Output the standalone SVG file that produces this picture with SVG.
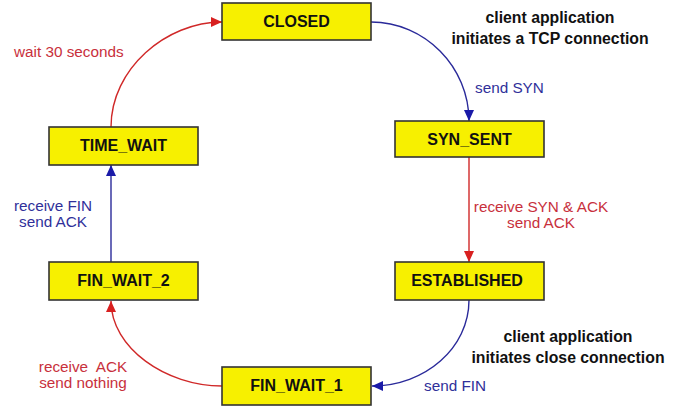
<svg xmlns="http://www.w3.org/2000/svg" width="697" height="414" viewBox="0 0 697 414">
<defs>
<style>
.node rect{fill:#f7f000;stroke:#333;stroke-width:1.6}
.node text{font-family:"Liberation Sans",Arial,sans-serif;font-weight:bold;font-size:16px;fill:#111;text-anchor:middle}
.lbl{font-family:"Liberation Sans",Arial,sans-serif;font-size:15.3px}
.red{fill:#c8303c}
.blue{fill:#30309a}
.note{font-family:"Liberation Sans",Arial,sans-serif;font-weight:bold;font-size:15.8px;fill:#111;text-anchor:middle}
.er{fill:none;stroke:#d02828;stroke-width:1.4}
.eb{fill:none;stroke:#2a2a9a;stroke-width:1.4}
</style>
<marker id="ar" markerUnits="userSpaceOnUse" markerWidth="12" markerHeight="10" refX="11" refY="5" orient="auto"><path d="M0,0 L11,5 L0,10 Z" fill="#d82020"/></marker>
<marker id="ab" markerUnits="userSpaceOnUse" markerWidth="12" markerHeight="10" refX="11" refY="5" orient="auto"><path d="M0,0 L11,5 L0,10 Z" fill="#1a1aa8"/></marker>
</defs>
<rect width="697" height="414" fill="#fff"/>
<g id="connectors">
<path class="eb" d="M371,22 C425,22 469,67 469,121" marker-end="url(#ab)"/>
<path class="er" d="M469,157 L469,262" marker-end="url(#ar)"/>
<path class="eb" d="M469,300 C469,348 425,386 372,386" marker-end="url(#ab)"/>
<path class="er" d="M222,386 C166,386 111,348 111,301" marker-end="url(#ar)"/>
<path class="eb" d="M111,262 L111,165" marker-end="url(#ab)"/>
<path class="er" d="M111,127 C111,69 166,22 222,22" marker-end="url(#ar)"/>
</g>
<g id="closed" class="node"><rect x="222" y="3" width="149" height="37"/><text x="296.5" y="27">CLOSED</text></g>
<g id="syn_sent" class="node"><rect x="395" y="121" width="149" height="36"/><text x="469.5" y="145">SYN_SENT</text></g>
<g id="established" class="node"><rect x="395" y="262" width="149" height="38"/><text x="467" y="286">ESTABLISHED</text></g>
<g id="fin_wait_1" class="node"><rect x="222" y="367" width="149" height="38"/><text x="296.5" y="391">FIN_WAIT_1</text></g>
<g id="fin_wait_2" class="node"><rect x="49" y="262" width="149" height="38"/><text x="123.5" y="286">FIN_WAIT_2</text></g>
<g id="time_wait" class="node"><rect x="49" y="127" width="149" height="38"/><text x="123.5" y="151">TIME_WAIT</text></g>
<g id="labels">
<text class="lbl red" x="14" y="57">wait 30 seconds</text>
<text class="lbl blue" x="475" y="93">send SYN</text>
<text class="lbl red" x="541" y="212" text-anchor="middle">receive SYN &amp; ACK</text>
<text class="lbl red" x="541" y="228" text-anchor="middle">send ACK</text>
<text class="lbl blue" x="424" y="391">send FIN</text>
<text class="lbl red" x="83" y="372" text-anchor="middle" xml:space="preserve">receive  ACK</text>
<text class="lbl red" x="83" y="388" text-anchor="middle">send nothing</text>
<text class="lbl blue" x="53" y="211" text-anchor="middle">receive FIN</text>
<text class="lbl blue" x="53" y="227" text-anchor="middle">send ACK</text>
<text class="note" x="550" y="23">client application</text>
<text class="note" x="550" y="44">initiates a TCP connection</text>
<text class="note" x="568" y="342">client application</text>
<text class="note" x="568" y="363">initiates close connection</text>
</g>
</svg>
